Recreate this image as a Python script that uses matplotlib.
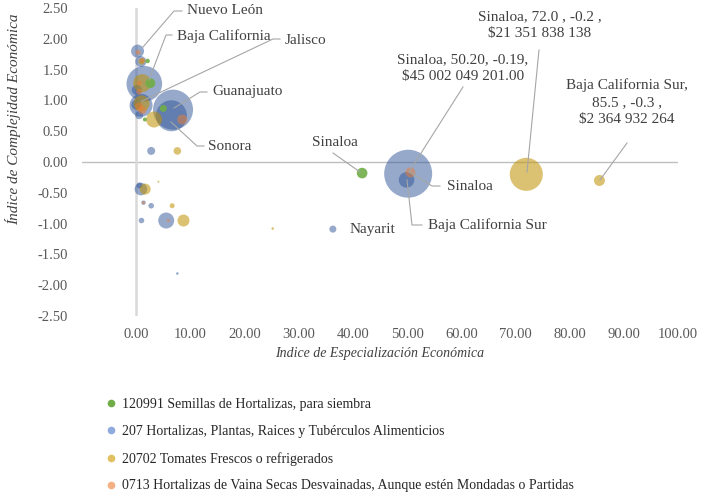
import matplotlib
matplotlib.use("Agg")
import matplotlib.pyplot as plt
from matplotlib.lines import Line2D
import numpy as np

plt.rcParams['font.family'] = ['Liberation Serif', 'DejaVu Serif']

# ---------------- data ----------------
series_names = [
    "120991 Semillas de Hortalizas, para siembra",
    "207 Hortalizas, Plantas, Raices y Tubérculos Alimenticios",
    "20702 Tomates Frescos o refrigerados",
    "0713 Hortalizas de Vaina Secas Desvainadas, Aunque estén Mondadas o Partidas",
]

# 120991 (x = especialización, y = complejidad, size = valor en miles de millones $)
green_x = [41.7, 2.1, 2.6, 5.0, 1.6]
green_y = [-0.18, 1.64, 1.28, 0.87, 0.69]
green_v = [2.2, 0.41, 1.95, 0.96, 0.31]

# 207
blue_x = [0.25, 0.85, 1.5, 0.1, 0.9, 0.05, 0.55, 6.8, 6.5, 2.77, 0.87, 0.6,
          1.35, 2.77, 0.98, 5.54, 36.3, 7.6, 50.2, 49.9]
blue_y = [1.80, 1.63, 1.27, 1.17, 0.92, 0.93, 0.76, 0.85, 0.75, 0.18, -0.44, -0.38,
          -0.66, -0.71, -0.95, -0.95, -1.09, -1.81, -0.19, -0.29]
blue_v = [3.3, 2.36, 24.75, 1.95, 10.3, 1.95, 1.25, 31.25, 18.8, 1.25, 3.1, 0.7,
          0.38, 0.61, 0.61, 5.0, 0.96, 0.13, 45.0, 4.75]

# 20702
yellow_x = [72.0, 85.5, 1.1, 1.0, 3.3, 7.6, 1.66, 6.64, 8.73, 25.2, 4.1, 1.0]
yellow_y = [-0.2, -0.3, 1.28, 0.95, 0.69, 0.18, -0.44, -0.71, -0.95, -1.08, -0.32, 1.63]
yellow_v = [21.35, 2.36, 6.3, 5.0, 5.0, 1.13, 2.36, 0.49, 2.81, 0.13, 0.08, 0.78]

# 0713
salmon_x = [50.6, 0.35, 1.15, 0.55, 0.55, 0.55, 1.15, 8.5, 5.9, 1.35]
salmon_y = [-0.17, 1.78, 1.65, 1.28, 1.14, 0.90, 0.84, 0.69, -0.95, -0.66]
salmon_v = [1.95, 0.49, 0.49, 0.49, 0.7, 1.25, 1.25, 1.95, 0.18, 0.18]

x_ticks = [0, 10, 20, 30, 40, 50, 60, 70, 80, 90, 100]
y_ticks = [-2.5, -2.0, -1.5, -1.0, -0.5, 0.0, 0.5, 1.0, 1.5, 2.0, 2.5]

colors = ['#70AD47', '#2F5597', '#BF9000', '#ED7D31']
alphas = [0.9, 0.5, 0.55, 0.5]
legend_colors = ['#70AD47', '#8FAADC', '#E0C060', '#F4B183']

# ---------------- figure ----------------
W, H = 703, 496
fig = plt.figure(figsize=(W / 100, H / 100), dpi=100)
L, R, T, B = 82, 678, 8, 316
ax = fig.add_axes([L / W, 1 - B / H, (R - L) / W, (B - T) / H])
XMIN, XMAX, YMIN, YMAX = -10, 100, -2.5, 2.5
ax.set_xlim(XMIN, XMAX)
ax.set_ylim(YMIN, YMAX)


def P(px, py):
    """figure pixel -> data coordinate (for label placement)"""
    return (XMIN + (px - L) / (R - L) * (XMAX - XMIN),
            YMAX - (py - T) / (B - T) * (YMAX - YMIN))


# bubble area proportional to value; largest (45) -> 48 px diameter
scale = (48 * 0.72) ** 2 / max(blue_v)

for xs, ys, vs, c, a in [(blue_x, blue_y, blue_v, colors[1], alphas[1]),
                         (yellow_x, yellow_y, yellow_v, colors[2], alphas[2]),
                         (salmon_x, salmon_y, salmon_v, colors[3], alphas[3]),
                         (green_x, green_y, green_v, colors[0], alphas[0])]:
    ax.scatter(xs, ys, s=np.array(vs) * scale, color=c, alpha=a,
               edgecolors='none', zorder=3)

ax.axhline(0, color='#BFBFBF', lw=1.0, zorder=1)
ax.axvline(0, color='#D9D9D9', lw=1.8, zorder=1)

for s in ax.spines.values():
    s.set_visible(False)
ax.set_xticks(x_ticks)
ax.set_xticklabels([f"{v:.2f}" for v in x_ticks])
ax.set_yticks(y_ticks)
ax.set_yticklabels([f"{v:.2f}" for v in y_ticks])
ax.tick_params(axis='both', length=0, labelsize=10.5, colors='#595959')
ax.tick_params(axis='x', pad=9)
ax.tick_params(axis='y', pad=10)

fig.text(380 / W, 1 - 354 / H, "Indice de Especialización Económica",
         ha='center', va='center', fontsize=10, style='italic', color='#404040')
fig.text(13 / W, 1 - 119 / H, "Índice de Complejidad Económica",
         ha='center', va='center', rotation=90, fontsize=11, style='italic',
         color='#404040')

# ---------------- labels & leader lines ----------------
lc = '#A6A6A6'
tc = '#404040'
fs = 11


def leader(*pts):
    d = [P(*p) for p in pts]
    ax.plot([q[0] for q in d], [q[1] for q in d], color=lc, lw=0.8,
            zorder=4, clip_on=False)


def label(px, py, txt, ha='left'):
    x, y = P(px, py)
    ax.text(x, y, txt, ha=ha, va='center', fontsize=fs, color=tc,
            linespacing=1.4, zorder=5)


leader((143, 47), (174, 11), (182, 11)); label(187, 11, "Nuevo León")
leader((149, 80), (166, 35), (172, 35)); label(177, 36, "Baja California")
leader((142, 101), (273, 39), (280, 39)); label(285, 40, "Jalisco")
leader((174, 108), (200, 92), (207, 92)); label(212, 92, "Guanajuato")
leader((171, 122), (197, 146), (204, 146)); label(208, 147, "Sonora")
leader((333, 153), (360, 172)); label(312, 142, "Sinaloa")
leader((410, 172), (432, 186), (440, 186)); label(447, 186, "Sinaloa")
leader((407, 180), (412, 225), (422, 225)); label(428, 225, "Baja California Sur")
label(350, 229, "Nayarit")
leader((463, 87), (409, 172))
label(463, 68, "Sinaloa, 50.20, -0.19,\n$45 002 049 201.00", ha='center')
leader((539, 50), (527, 172))
label(540, 25, "Sinaloa, 72.0 , -0.2 ,\n$21 351 838 138", ha='center')
leader((627, 143), (600, 180))
label(627, 102, "Baja California Sur,\n85.5 , -0.3 ,\n$2 364 932 264", ha='center')

# ---------------- legend ----------------
handles = [Line2D([], [], ls='none', marker='o', markersize=5.5,
                  markerfacecolor=c, markeredgecolor='none') for c in legend_colors]
fig.legend(handles, series_names, loc='upper left',
           bbox_to_anchor=(105 / W, 1 - 398 / H), frameon=False,
           fontsize=10, handlelength=0.8, handletextpad=0.4,
           labelspacing=1.0, borderpad=0, borderaxespad=0, labelcolor='#262626')

fig.savefig("out.png", dpi=100)
